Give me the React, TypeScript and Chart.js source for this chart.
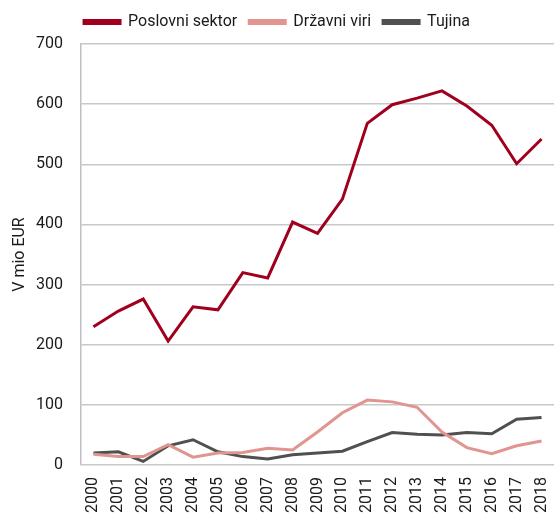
import React, { useEffect, useRef } from "react";
import { Chart, registerables } from "chart.js";

Chart.register(...registerables);

const years = ["2000","2001","2002","2003","2004","2005","2006","2007","2008","2009","2010","2011","2012","2013","2014","2015","2016","2017","2018"];
const poslovniSektor = [230, 256, 276, 206, 263, 258, 320, 311, 404, 385, 442, 568, 599, 610, 622, 597, 565, 501, 542];
const drzavniViri = [18, 14, 14, 34, 13, 20, 21, 28, 25, 55, 87, 108, 105, 96, 55, 29, 19, 32, 40];
const tujina = [20, 22, 6, 32, 42, 22, 14, 10, 17, 20, 23, 39, 54, 51, 50, 54, 52, 76, 79];
const yTicks = [0, 100, 200, 300, 400, 500, 600, 700];

const FONT = "'Roboto', sans-serif";

const legendMargin = {
  id: "legendMargin",
  beforeInit(chart: any) {
    const legend = chart.legend;
    if (!legend) return;
    const orig = legend.fit;
    legend.fit = function () {
      orig.call(this);
      this.height += 4;
    };
  },
};

export default function App() {
  const ref = useRef<HTMLCanvasElement | null>(null);
  useEffect(() => {
    if (!ref.current) return;
    const chart = new Chart(ref.current, {
      type: "line",
      data: {
        labels: years,
        datasets: [
          { label: "Poslovni sektor", data: poslovniSektor, borderColor: "#a0001e", backgroundColor: "#a0001e", borderWidth: 3, pointRadius: 0, tension: 0 },
          { label: "Državni viri", data: drzavniViri, borderColor: "#e09590", backgroundColor: "#e09590", borderWidth: 3, pointRadius: 0, tension: 0 },
          { label: "Tujina", data: tujina, borderColor: "#505050", backgroundColor: "#505050", borderWidth: 3, pointRadius: 0, tension: 0 },
        ],
      },
      plugins: [legendMargin],
      options: {
        animation: false,
        responsive: false,
        maintainAspectRatio: false,
        layout: { padding: { top: 2, right: 0, left: 0, bottom: -5 } },
        plugins: {
          tooltip: { enabled: false },
          legend: {
            position: "top",
            labels: {
              boxWidth: 36,
              boxHeight: 3,
              padding: 12,
              color: "#1a1a1a",
              font: { family: FONT, size: 16 },
            },
          },
        },
        scales: {
          x: {
            offset: true,
            grid: { display: false, drawTicks: false },
            border: { display: false },
            afterFit: (axis: any) => { axis.paddingRight = 0; axis.paddingLeft = 0; },
            ticks: {
              color: "#1a1a1a",
              font: { family: FONT, size: 16 },
              minRotation: 90,
              maxRotation: 90,
              autoSkip: false,
              padding: 12,
            },
          },
          y: {
            min: 0,
            max: 700,
            afterBuildTicks: (axis: any) => { axis.ticks = yTicks.map((v) => ({ value: v })); },
            afterFit: (axis: any) => { axis.width = 81; },
            grid: { color: "#c8c8c8", lineWidth: 1.5, drawTicks: false },
            border: { display: true, color: "#c0c0c0", width: 1.5 },
            title: { display: true, text: "V mio EUR", color: "#1a1a1a", font: { family: FONT, size: 16 }, padding: { top: 10, bottom: 0 } },
            ticks: { color: "#1a1a1a", font: { family: FONT, size: 16 }, padding: 18 },
          },
        },
      },
    });
    return () => chart.destroy();
  }, []);
  return (
    <div style={{ position: "absolute", left: 0, top: 0, width: 554, height: 520, background: "#fff" }}>
      <canvas ref={ref} width={554} height={520} style={{ width: 554, height: 520 }} />
    </div>
  );
}
